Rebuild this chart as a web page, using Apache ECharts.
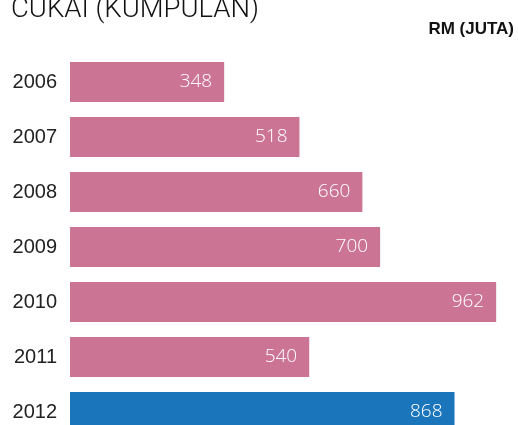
<!DOCTYPE html>
<html>
<head>
<meta charset="utf-8">
<script src="https://cdn.jsdelivr.net/npm/echarts@6/dist/echarts.min.js"></script>
<style>
  html, body { margin: 0; padding: 0; background: #fff; }
  #grafico { width: 518px; height: 425px; }
</style>
</head>
<body>
<div id="grafico"></div>
<script>
// Data: cukai (kumpulan), RM juta
const tahun = ['2006', '2007', '2008', '2009', '2010', '2011', '2012'];
const nilai = [348, 518, 660, 700, 962, 540, 868];

const warnaPink = '#cc7494';
const warnaBiru = '#1b75bb';

const grafico = echarts.init(document.getElementById('grafico'));

const dataBar = nilai.map((v, i) => ({
    value: v,
    itemStyle: { color: i === nilai.length - 1 ? warnaBiru : warnaPink }
}));

grafico.setOption({
    animation: false,
    title: {
        text: 'CUKAI (KUMPULAN)',
        left: 6,
        top: -9,
        textStyle: {
            fontFamily: 'Roboto',
            fontWeight: 300,
            fontSize: 27.5,
            color: '#111'
        }
    },
    graphic: [{
        type: 'text',
        right: 4,
        top: 21,
        style: {
            text: 'RM (JUTA)',
            font: 'bold 17px "Liberation Sans", Arial',
            fill: '#111'
        }
    }],
    grid: {
        left: 70,
        top: 54.5,
        right: 5,
        bottom: -14.5,
        containLabel: false,
        outerBoundsMode: 'none'
    },
    xAxis: {
        type: 'value',
        min: 0,
        max: 1000,
        show: false
    },
    yAxis: {
        type: 'category',
        data: tahun,
        inverse: true,
        axisLine: { show: false },
        axisTick: { show: false },
        axisLabel: {
            margin: 13,
            fontFamily: 'Liberation Sans',
            fontSize: 20,
            color: '#222'
        }
    },
    series: [{
        type: 'bar',
        data: dataBar,
        barWidth: 40,
        label: {
            show: true,
            position: 'insideRight',
            distance: 12,
            color: '#fff',
            fontFamily: 'Open Sans',
            fontWeight: 300,
            fontSize: 19
        }
    }]
});
</script>
</body>
</html>
